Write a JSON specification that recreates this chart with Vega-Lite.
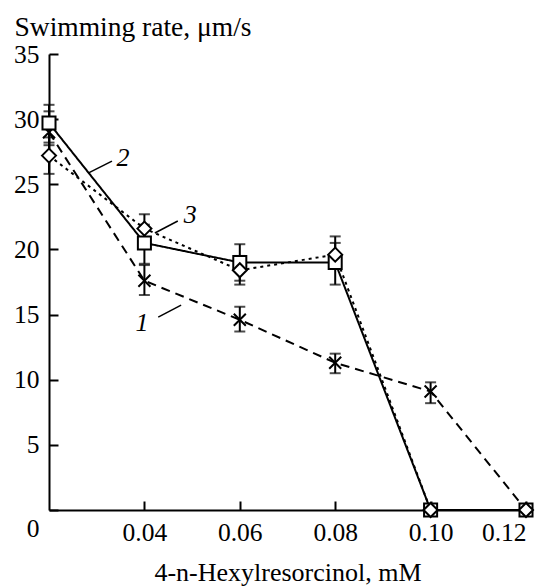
{
  "$schema": "https://vega.github.io/schema/vega-lite/v6.json",
  "width": 477,
  "height": 456,
  "autosize": {"type": "none"},
  "padding": {"left": 49, "top": 54, "right": 22, "bottom": 76},
  "background": "white",
  "config": {
    "view": {"stroke": null},
    "font": "Liberation Serif",
    "axis": {
      "domainColor": "black", "domainWidth": 2, "tickColor": "black", "tickWidth": 2,
      "labelColor": "black", "titleColor": "black", "grid": false,
      "labelFont": "Liberation Serif", "titleFont": "Liberation Serif",
      "labelFontSize": 25.5, "titleFontSize": 26, "titleFontWeight": "normal"
    }
  },
  "datasets": {
    "pts": [
      {"series": "1", "x": 0.02, "y": 29.0, "lo": 28.0, "hi": 30.6},
      {"series": "1", "x": 0.04, "y": 17.6, "lo": 16.5, "hi": 18.8},
      {"series": "1", "x": 0.06, "y": 14.6, "lo": 13.7, "hi": 15.6},
      {"series": "1", "x": 0.08, "y": 11.3, "lo": 10.5, "hi": 12.0},
      {"series": "1", "x": 0.10, "y": 9.1, "lo": 8.2, "hi": 9.8},
      {"series": "1", "x": 0.12, "y": 0, "lo": null, "hi": null},
      {"series": "2", "x": 0.02, "y": 29.7, "lo": 28.2, "hi": 31.1},
      {"series": "2", "x": 0.04, "y": 20.5, "lo": 18.9, "hi": 21.9},
      {"series": "2", "x": 0.06, "y": 19.0, "lo": 17.6, "hi": 20.4},
      {"series": "2", "x": 0.08, "y": 19.0, "lo": 17.3, "hi": 20.5},
      {"series": "2", "x": 0.10, "y": 0, "lo": null, "hi": null},
      {"series": "2", "x": 0.12, "y": 0, "lo": null, "hi": null},
      {"series": "3", "x": 0.02, "y": 27.2, "lo": 25.8, "hi": 28.6},
      {"series": "3", "x": 0.04, "y": 21.6, "lo": 20.6, "hi": 22.7},
      {"series": "3", "x": 0.06, "y": 18.4, "lo": 17.3, "hi": 19.5},
      {"series": "3", "x": 0.08, "y": 19.6, "lo": 18.6, "hi": 21.0},
      {"series": "3", "x": 0.10, "y": 0, "lo": null, "hi": null},
      {"series": "3", "x": 0.12, "y": 0, "lo": null, "hi": null}
    ],
    "labels": [
      {"label": "1", "x": 0.0395, "y": 14.35},
      {"label": "2", "x": 0.0355, "y": 27.0},
      {"label": "3", "x": 0.0496, "y": 22.64}
    ],
    "leaders": [
      {"x1": 0.0429, "y1": 14.81, "x2": 0.0477, "y2": 15.73},
      {"x1": 0.0282, "y1": 25.86, "x2": 0.0332, "y2": 26.78},
      {"x1": 0.0422, "y1": 21.26, "x2": 0.0470, "y2": 22.18}
    ]
  },
  "layer": [
    {
      "data": {"name": "pts"},
      "mark": {"type": "line", "color": "black", "strokeWidth": 2},
      "encoding": {
        "x": {
          "field": "x", "type": "quantitative",
          "scale": {"domain": [0.02, 0.12], "nice": false, "zero": false},
          "axis": {
            "values": [0.04, 0.06, 0.08, 0.10, 0.12], "format": ".2f",
            "title": "4-n-Hexylresorcinol, mM", "tickSize": -9, "labelPadding": 19,
            "titlePadding": 14,
            "labelFont": "Liberation Serif", "titleFont": "Liberation Serif"
          }
        },
        "y": {
          "field": "y", "type": "quantitative", "title": "Swimming rate, μm/s",
          "scale": {"domain": [0, 35], "nice": false},
          "axis": {
            "values": [0, 5, 10, 15, 20, 25, 30, 35],
            "title": "Swimming rate, μm/s", "titleAngle": 0, "titleAlign": "left",
            "titleBaseline": "middle", "titleX": -35, "titleY": -27, "titleFontSize": 27.5,
            "tickSize": -9, "labelPadding": 19,
            "labelFont": "Liberation Serif", "titleFont": "Liberation Serif",
            "labelOffset": {"condition": {"test": "datum.value == 0", "value": 18}, "value": 0}
          }
        },
        "detail": {"field": "series"},
        "strokeDash": {
          "field": "series", "type": "nominal",
          "scale": {"domain": ["1", "2", "3"], "range": [[9, 6], [1, 0], [3, 4]]},
          "legend": null
        },
        "order": {"field": "x", "type": "quantitative"}
      }
    },
    {
      "data": {"name": "pts"},
      "transform": [{"filter": "datum.lo != null"}],
      "mark": {"type": "errorbar", "color": "black", "ticks": {"size": 11, "thickness": 2, "color": "black"}, "rule": {"strokeWidth": 2, "color": "black"}},
      "encoding": {
        "x": {"field": "x", "type": "quantitative"},
        "y": {"field": "lo", "type": "quantitative", "title": "Swimming rate, μm/s"},
        "y2": {"field": "hi"}
      }
    },
    {
      "data": {"name": "pts"},
      "mark": {"type": "point", "filled": false, "fill": "white", "fillOpacity": 1, "stroke": "black", "strokeWidth": 2, "opacity": 1},
      "encoding": {
        "x": {"field": "x", "type": "quantitative"},
        "y": {"field": "y", "type": "quantitative", "title": "Swimming rate, μm/s"},
        "shape": {
          "field": "series", "type": "nominal",
          "scale": {"domain": ["1", "2", "3"], "range": ["M-1,-1L1,1M-1,1L1,-1", "square", "diamond"]},
          "legend": null
        },
        "size": {
          "field": "series", "type": "nominal",
          "scale": {"domain": ["1", "2", "3"], "range": [144, 196, 225]},
          "legend": null
        }
      }
    },
    {
      "data": {"name": "leaders"},
      "mark": {"type": "rule", "color": "black", "strokeWidth": 1.5},
      "encoding": {
        "x": {"field": "x1", "type": "quantitative"},
        "y": {"field": "y1", "type": "quantitative"},
        "x2": {"field": "x2"},
        "y2": {"field": "y2"}
      }
    },
    {
      "data": {"name": "labels"},
      "mark": {"type": "text", "font": "Liberation Serif", "fontStyle": "italic", "fontSize": 26, "color": "black"},
      "encoding": {
        "x": {"field": "x", "type": "quantitative"},
        "y": {"field": "y", "type": "quantitative"},
        "text": {"field": "label"}
      }
    }
  ]
}
